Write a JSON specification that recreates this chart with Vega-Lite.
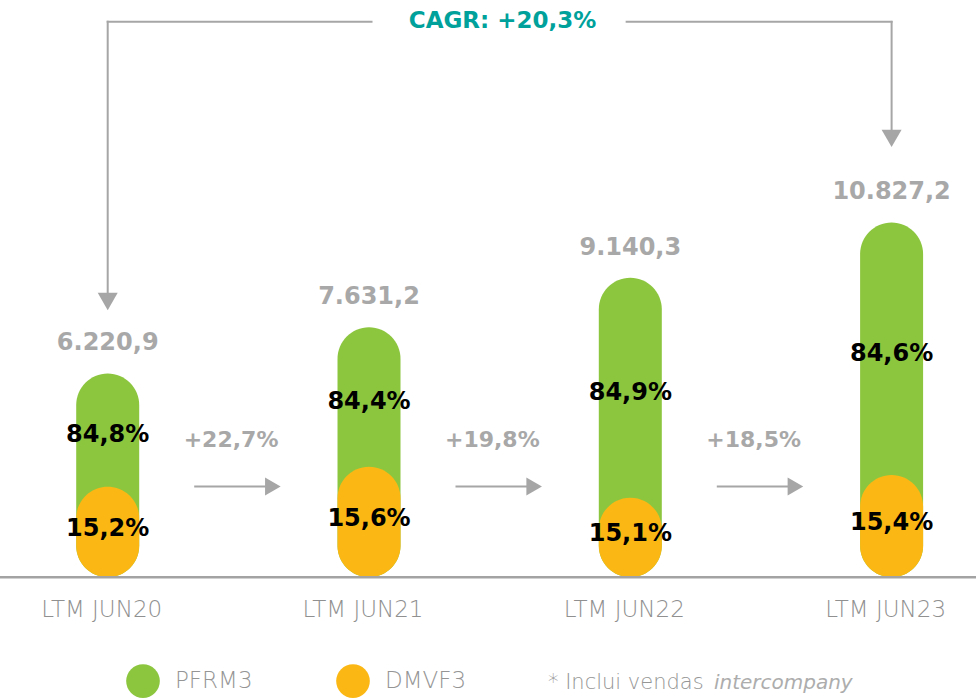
{
  "$schema": "https://vega.github.io/schema/vega-lite/v6.json",
  "width": 976,
  "height": 699,
  "autosize": {"type": "none"},
  "padding": 0,
  "background": "white",
  "config": {"view": {"stroke": null}, "scale": {"continuousPadding": 0}},
  "datasets": {
    "bars": [
      {"idx": 0, "period": "LTM JUN20", "total": 6220.9, "total_label": "6.220,9", "pfrm3_share": "84,8%", "dmvf3_share": "15,2%", "dmvf3_bar": 2765},
      {"idx": 1, "period": "LTM JUN21", "total": 7631.2, "total_label": "7.631,2", "pfrm3_share": "84,4%", "dmvf3_share": "15,6%", "dmvf3_bar": 3375},
      {"idx": 2, "period": "LTM JUN22", "total": 9140.3, "total_label": "9.140,3", "pfrm3_share": "84,9%", "dmvf3_share": "15,1%", "dmvf3_bar": 2429},
      {"idx": 3, "period": "LTM JUN23", "total": 10827.2, "total_label": "10.827,2", "pfrm3_share": "84,6%", "dmvf3_share": "15,4%", "dmvf3_bar": 3122}
    ],
    "growth": [
      {"from": 0, "growth": "+22,7%"},
      {"from": 1, "growth": "+19,8%"},
      {"from": 2, "growth": "+18,5%"}
    ]
  },
  "layer": [
    {
      "data": {"name": "bars"},
      "mark": {"type": "bar", "width": 63, "cornerRadius": 31.5},
      "encoding": {
        "x": {"field": "idx", "type": "quantitative", "scale": {"domain": [-0.4122, 3.323], "nice": false, "zero": false, "padding": 0}, "axis": null},
        "y": {"field": "total", "type": "quantitative", "scale": {"domain": [-3714, 17617], "nice": false, "zero": false, "padding": 0}, "axis": null},
        "y2": {"datum": 0},
        "color": {
          "datum": "PFRM3",
          "type": "nominal",
          "scale": {"domain": ["PFRM3", "DMVF3"], "range": ["#8CC63F", "#FBB814"]},
          "legend": {
            "title": null,
            "orient": "none",
            "direction": "horizontal",
            "legendX": 126,
            "legendY": 664,
            "padding": 0,
            "offset": 0,
            "symbolType": "circle",
            "symbolSize": 1134,
            "symbolStrokeWidth": 0,
            "symbolOpacity": 1,
            "labelFont": "DejaVu Sans",
            "labelFontWeight": 200,
            "labelFontSize": 23,
            "labelColor": "#959595",
            "labelOffset": 15,
            "columnPadding": 83,
            "labelLimit": 300
          }
        }
      }
    },
    {
      "data": {"name": "bars"},
      "mark": {"type": "bar", "width": 63, "cornerRadius": 31.5},
      "encoding": {
        "x": {"field": "idx", "type": "quantitative", "scale": {"domain": [-0.4122, 3.323], "nice": false, "zero": false, "padding": 0}, "axis": null},
        "y": {"field": "dmvf3_bar", "type": "quantitative", "scale": {"domain": [-3714, 17617], "nice": false, "zero": false, "padding": 0}, "axis": null},
        "y2": {"datum": 0},
        "color": {"datum": "DMVF3", "type": "nominal"}
      }
    },
    {
      "data": {"values": [{}]},
      "mark": {"type": "rule", "color": "#A3A3A3", "strokeWidth": 2.5},
      "encoding": {
        "y": {"datum": 0, "type": "quantitative", "scale": {"domain": [-3714, 17617], "nice": false, "zero": false, "padding": 0}}
      }
    },
    {
      "data": {"name": "bars"},
      "mark": {"type": "text", "font": "DejaVu Sans", "fontWeight": "bold", "fontSize": 24, "color": "#A8A8A8", "baseline": "middle", "dy": -30},
      "encoding": {
        "x": {"field": "idx", "type": "quantitative", "scale": {"domain": [-0.4122, 3.323], "nice": false, "zero": false, "padding": 0}},
        "y": {"field": "total", "type": "quantitative", "scale": {"domain": [-3714, 17617], "nice": false, "zero": false, "padding": 0}},
        "text": {"field": "total_label"}
      }
    },
    {
      "data": {"name": "bars"},
      "transform": [{"calculate": "(datum.total + datum.dmvf3_bar) / 2", "as": "mid"}],
      "mark": {"type": "text", "font": "DejaVu Sans", "fontWeight": "bold", "fontSize": 24, "color": "#000000", "baseline": "middle", "dy": 5},
      "encoding": {
        "x": {"field": "idx", "type": "quantitative", "scale": {"domain": [-0.4122, 3.323], "nice": false, "zero": false, "padding": 0}},
        "y": {"field": "mid", "type": "quantitative", "scale": {"domain": [-3714, 17617], "nice": false, "zero": false, "padding": 0}},
        "text": {"field": "pfrm3_share"}
      }
    },
    {
      "data": {"name": "bars"},
      "transform": [{"calculate": "datum.dmvf3_bar / 2", "as": "omid"}],
      "mark": {"type": "text", "font": "DejaVu Sans", "fontWeight": "bold", "fontSize": 24, "color": "#000000", "baseline": "middle", "dy": -3},
      "encoding": {
        "x": {"field": "idx", "type": "quantitative", "scale": {"domain": [-0.4122, 3.323], "nice": false, "zero": false, "padding": 0}},
        "y": {"field": "omid", "type": "quantitative", "scale": {"domain": [-3714, 17617], "nice": false, "zero": false, "padding": 0}},
        "text": {"field": "dmvf3_share"}
      }
    },
    {
      "data": {"name": "bars"},
      "mark": {"type": "text", "font": "DejaVu Sans", "fontWeight": 200, "fontSize": 23, "color": "#909090", "baseline": "middle", "dx": -6},
      "encoding": {
        "x": {"field": "idx", "type": "quantitative", "scale": {"domain": [-0.4122, 3.323], "nice": false, "zero": false, "padding": 0}},
        "y": {"datum": -998, "type": "quantitative", "scale": {"domain": [-3714, 17617], "nice": false, "zero": false, "padding": 0}},
        "text": {"field": "period"}
      }
    },
    {
      "data": {"name": "growth"},
      "transform": [
        {"calculate": "datum.from + 0.331", "as": "xa"},
        {"calculate": "datum.from + 0.605", "as": "xb"}
      ],
      "mark": {"type": "rule", "color": "#A6A6A6", "strokeWidth": 2},
      "encoding": {
        "x": {"field": "xa", "type": "quantitative", "scale": {"domain": [-0.4122, 3.323], "nice": false, "zero": false, "padding": 0}},
        "x2": {"field": "xb"},
        "y": {"datum": 2771, "type": "quantitative", "scale": {"domain": [-3714, 17617], "nice": false, "zero": false, "padding": 0}}
      }
    },
    {
      "data": {"name": "growth"},
      "transform": [{"calculate": "datum.from + 0.632", "as": "xh"}],
      "mark": {"type": "point", "shape": "triangle-right", "size": 324, "filled": true, "opacity": 1, "color": "#A6A6A6"},
      "encoding": {
        "x": {"field": "xh", "type": "quantitative", "scale": {"domain": [-0.4122, 3.323], "nice": false, "zero": false, "padding": 0}},
        "y": {"datum": 2771, "type": "quantitative", "scale": {"domain": [-3714, 17617], "nice": false, "zero": false, "padding": 0}}
      }
    },
    {
      "data": {"name": "growth"},
      "transform": [{"calculate": "datum.from + 0.472", "as": "xl"}],
      "mark": {"type": "text", "font": "DejaVu Sans", "fontWeight": "bold", "fontSize": 22, "color": "#A8A8A8", "baseline": "middle"},
      "encoding": {
        "x": {"field": "xl", "type": "quantitative", "scale": {"domain": [-0.4122, 3.323], "nice": false, "zero": false, "padding": 0}},
        "y": {"datum": 4190, "type": "quantitative", "scale": {"domain": [-3714, 17617], "nice": false, "zero": false, "padding": 0}},
        "text": {"field": "growth"}
      }
    },
    {
      "data": {"values": [{}]},
      "mark": {"type": "rule", "color": "#A6A6A6", "strokeWidth": 2, "strokeCap": "square"},
      "encoding": {
        "x": {"datum": 0, "type": "quantitative", "scale": {"domain": [-0.4122, 3.323], "nice": false, "zero": false, "padding": 0}},
        "y": {"datum": 8650, "type": "quantitative", "scale": {"domain": [-3714, 17617], "nice": false, "zero": false, "padding": 0}},
        "y2": {"datum": 16950}
      }
    },
    {
      "data": {"values": [{}]},
      "mark": {"type": "rule", "color": "#A6A6A6", "strokeWidth": 2, "strokeCap": "square"},
      "encoding": {
        "x": {"datum": 0, "type": "quantitative", "scale": {"domain": [-0.4122, 3.323], "nice": false, "zero": false, "padding": 0}},
        "x2": {"datum": 1.0096},
        "y": {"datum": 16950, "type": "quantitative", "scale": {"domain": [-3714, 17617], "nice": false, "zero": false, "padding": 0}}
      }
    },
    {
      "data": {"values": [{}]},
      "mark": {"type": "rule", "color": "#A6A6A6", "strokeWidth": 2, "strokeCap": "square"},
      "encoding": {
        "x": {"datum": 1.986, "type": "quantitative", "scale": {"domain": [-0.4122, 3.323], "nice": false, "zero": false, "padding": 0}},
        "x2": {"datum": 3},
        "y": {"datum": 16950, "type": "quantitative", "scale": {"domain": [-3714, 17617], "nice": false, "zero": false, "padding": 0}}
      }
    },
    {
      "data": {"values": [{}]},
      "mark": {"type": "rule", "color": "#A6A6A6", "strokeWidth": 2, "strokeCap": "square"},
      "encoding": {
        "x": {"datum": 3, "type": "quantitative", "scale": {"domain": [-0.4122, 3.323], "nice": false, "zero": false, "padding": 0}},
        "y": {"datum": 13653, "type": "quantitative", "scale": {"domain": [-3714, 17617], "nice": false, "zero": false, "padding": 0}},
        "y2": {"datum": 16950}
      }
    },
    {
      "data": {"values": [{}]},
      "mark": {"type": "point", "shape": "triangle-down", "size": 400, "filled": true, "opacity": 1, "color": "#A6A6A6"},
      "encoding": {
        "x": {"datum": 0, "type": "quantitative", "scale": {"domain": [-0.4122, 3.323], "nice": false, "zero": false, "padding": 0}},
        "y": {"datum": 8416, "type": "quantitative", "scale": {"domain": [-3714, 17617], "nice": false, "zero": false, "padding": 0}}
      }
    },
    {
      "data": {"values": [{}]},
      "mark": {"type": "point", "shape": "triangle-down", "size": 400, "filled": true, "opacity": 1, "color": "#A6A6A6"},
      "encoding": {
        "x": {"datum": 3, "type": "quantitative", "scale": {"domain": [-0.4122, 3.323], "nice": false, "zero": false, "padding": 0}},
        "y": {"datum": 13396, "type": "quantitative", "scale": {"domain": [-3714, 17617], "nice": false, "zero": false, "padding": 0}}
      }
    },
    {
      "data": {"values": [{"label": "CAGR: +20,3%"}]},
      "mark": {"type": "text", "font": "DejaVu Sans", "fontWeight": "bold", "fontSize": 23, "color": "#00A19B", "baseline": "middle", "dy": -1},
      "encoding": {
        "x": {"datum": 1.511, "type": "quantitative", "scale": {"domain": [-0.4122, 3.323], "nice": false, "zero": false, "padding": 0}},
        "y": {"datum": 16950, "type": "quantitative", "scale": {"domain": [-3714, 17617], "nice": false, "zero": false, "padding": 0}},
        "text": {"field": "label"}
      }
    },
    {
      "data": {"values": [{"note": "* Inclui vendas"}]},
      "mark": {"type": "text", "font": "DejaVu Sans", "fontWeight": 200, "fontSize": 21, "color": "#959595", "baseline": "middle", "align": "left"},
      "encoding": {
        "x": {"datum": 1.685, "type": "quantitative", "scale": {"domain": [-0.4122, 3.323], "nice": false, "zero": false, "padding": 0}},
        "y": {"datum": -3225, "type": "quantitative", "scale": {"domain": [-3714, 17617], "nice": false, "zero": false, "padding": 0}},
        "text": {"field": "note"}
      }
    },
    {
      "data": {"values": [{"note": "intercompany"}]},
      "mark": {"type": "text", "font": "DejaVu Sans", "fontWeight": "normal", "fontStyle": "italic", "fontSize": 20, "color": "#ADADAD", "baseline": "middle", "align": "left"},
      "encoding": {
        "x": {"datum": 2.32, "type": "quantitative", "scale": {"domain": [-0.4122, 3.323], "nice": false, "zero": false, "padding": 0}},
        "y": {"datum": -3225, "type": "quantitative", "scale": {"domain": [-3714, 17617], "nice": false, "zero": false, "padding": 0}},
        "text": {"field": "note"}
      }
    }
  ]
}
